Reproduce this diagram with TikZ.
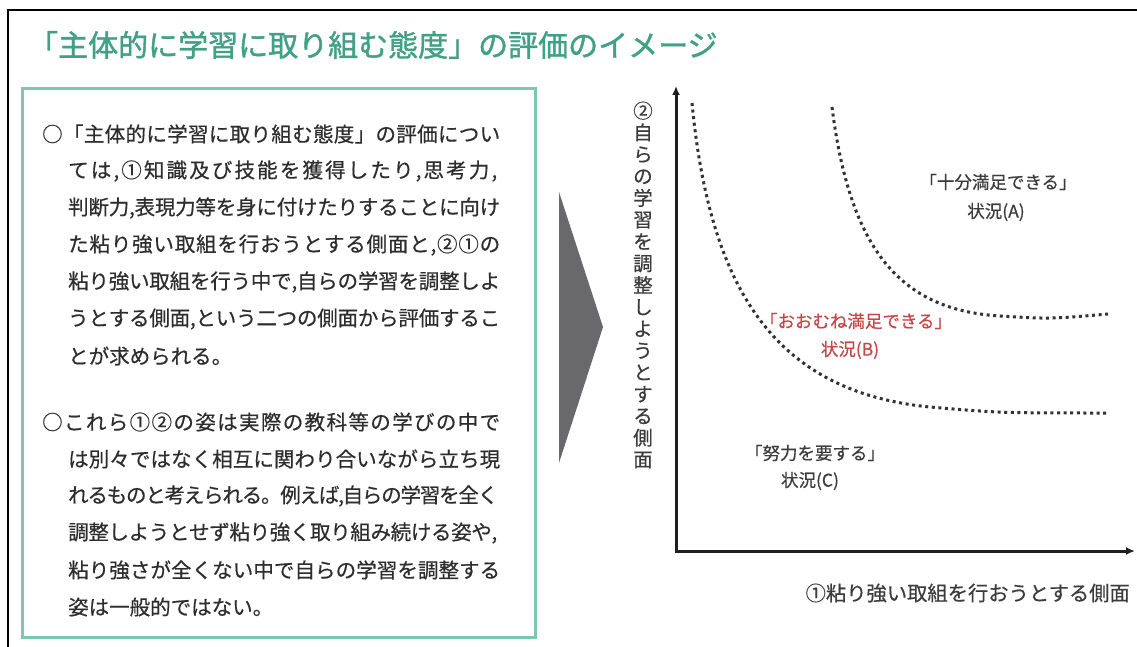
\documentclass[tikz,border=0pt]{standalone}
\usepackage{fontspec}
\setmainfont{Noto Sans CJK JP}
\newfontfamily\titlefont[FakeBold=1.3]{Noto Sans CJK JP}
\newfontfamily\bodyfont[FakeBold=0.5]{Noto Sans CJK JP}
\usetikzlibrary{arrows.meta}
\definecolor{titlegreen}{RGB}{66,160,132}
\definecolor{boxgreen}{RGB}{125,198,178}
\definecolor{bodytext}{RGB}{45,45,45}
\definecolor{labeltext}{RGB}{60,60,60}
\definecolor{redlabel}{RGB}{196,72,72}
\definecolor{arrowgray}{RGB}{105,105,107}
\definecolor{dotgray}{RGB}{50,50,50}
\newcommand\JLine[2]{\makebox[#1][s]{\JFirst#2\relax}}
\def\JFirst#1{#1\JRest}
\def\JRest#1{\ifx\relax#1\else\hskip 0pt plus 1fil minus 2pt#1\expandafter\JRest\fi}
\tikzset{
  body/.style={anchor=west,inner sep=0pt,text=bodytext,font=\bodyfont\fontsize{20.5}{20.5}\selectfont},
  lab/.style={inner sep=0pt,text=labeltext,font=\bodyfont\fontsize{17.5}{17.5}\selectfont},
  axisline/.style={line width=3pt,draw=black!88,arrows={Latex[length=9pt,width=8pt]-Latex[length=9pt,width=8pt]}},
  curve/.style={draw=dotgray,line width=3pt,dash pattern=on 3pt off 3.6pt}
}
\begin{document}
\begin{tikzpicture}[x=1pt,y=-1pt]
\fill[white] (0,0) rectangle (1137,647);
\useasboundingbox (0,0) rectangle (1137,647);
% frame
\draw[line width=2pt,black] (1137,10) -- (8,10) -- (8,647);
% title
\node[anchor=west,inner sep=0pt,text=titlegreen,font=\titlefont\fontsize{30}{30}\selectfont] (title) at (28,45) {「主体的に学習に取り組む態度」の評価のイメージ};
% text box
\draw[boxgreen,line width=3pt,fill=white] (22,89) rectangle (535,637);
\node[body] (p1a) at (42,134) {\JLine{458pt}{○「主体的に学習に取り組む態度」の評価につい}};
\node[body] (p1b) at (68,171) {\JLine{429pt}{ては,①知識及び技能を獲得したり,思考力,}};
\node[body] (p1c) at (68,208) {\JLine{432pt}{判断力,表現力等を身に付けたりすることに向け}};
\node[body] (p1d) at (68,245) {\JLine{432pt}{た粘り強い取組を行おうとする側面と,②①の}};
\node[body] (p1e) at (68,282) {\JLine{432pt}{粘り強い取組を行う中で,自らの学習を調整しよ}};
\node[body] (p1f) at (68,319) {\JLine{432pt}{うとする側面,という二つの側面から評価するこ}};
\node[body] (p1g) at (68,356) {とが求められる。};
\node[body] (p2a) at (42,422) {\JLine{458pt}{○これら①②の姿は実際の教科等の学びの中で}};
\node[body] (p2b) at (68,459) {\JLine{432pt}{は別々ではなく相互に関わり合いながら立ち現}};
\node[body] (p2c) at (68,496) {\JLine{430pt}{れるものと考えられる。例えば,自らの学習を全く}};
\node[body] (p2d) at (68,533) {\JLine{429pt}{調整しようとせず粘り強く取り組み続ける姿や,}};
\node[body] (p2e) at (68,570) {\JLine{432pt}{粘り強さが全くない中で自らの学習を調整する}};
\node[body] (p2f) at (68,607) {姿は一般的ではない。};
% big arrow
\fill[arrowgray] (559,192) -- (603,327) -- (559,463) -- cycle;
% axes
\coordinate (O) at (676,551);
\coordinate (ytop) at (676,86);
\coordinate (xend) at (1135,551);
\draw[axisline] (ytop) -- (O) -- (xend);
% axis labels
\node[inner sep=0pt,text=labeltext,align=center,font=\bodyfont\fontsize{19.5}{21.8}\selectfont] (ylab) at (643,285)
  {②\\自\\ら\\の\\学\\習\\を\\調\\整\\し\\よ\\う\\と\\す\\る\\側\\面};
\node[anchor=east,inner sep=0pt,text=labeltext,font=\bodyfont\fontsize{20.3}{20.3}\selectfont] (xlab) at (1130,593) {①粘り強い取組を行おうとする側面};
% curves
\draw[curve] (692,103) .. controls (710,290) and (775,392) .. (930,407) .. controls (1000,413) .. (1108,413);
\draw[curve] (832,107) .. controls (850,250) and (900,310) .. (1000,316) .. controls (1050,319) .. (1108,314);
% region labels
\node[lab] (a1) at (998,182) {「十分満足できる」};
\node[lab] (a2) at (996,212) {状況(A)};
\node[lab,text=redlabel] (b1) at (856,321) {「おおむね満足できる」};
\node[lab,text=redlabel] (b2) at (850,350) {状況(B)};
\node[lab] (c1) at (815,453) {「努力を要する」};
\node[lab] (c2) at (810,481) {状況(C)};
\end{tikzpicture}
\end{document}
